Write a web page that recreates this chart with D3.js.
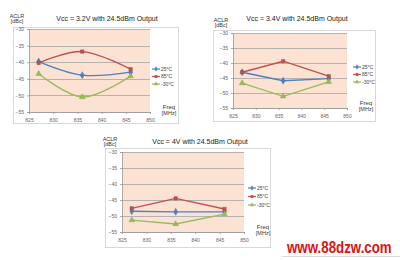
<!DOCTYPE html>
<html><head><meta charset="utf-8">
<script src="https://cdn.jsdelivr.net/npm/d3@7"></script>
<style>body{margin:0;background:#fff}svg{display:block}</style>
</head><body>
<svg id="c" width="400" height="261"></svg>
<script>
const freqs = [827, 836, 846];
const xTicks = [825, 830, 835, 840, 845, 850];
const yTicks = [-30, -35, -40, -45, -50, -55];
const seriesNames = ["25°C", "85°C", "-30°C"];
const titles = ["Vcc = 3.2V with 24.5dBm Output", "Vcc = 3.4V with 24.5dBm Output", "Vcc = 4V with 24.5dBm Output"];
const c1_25 = [-39.8, -43.9, -43.0];
const c1_85 = [-40.2, -36.8, -42.1];
const c1_m30 = [-43.5, -50.5, -44.2];
const c2_25 = [-43.1, -45.9, -45.2];
const c2_85 = [-43.1, -39.4, -44.4];
const c2_m30 = [-46.7, -51.1, -46.3];
const c3_25 = [-48.5, -48.7, -48.7];
const c3_85 = [-47.6, -44.5, -47.8];
const c3_m30 = [-51.3, -52.5, -49.4];

const colors = ["#4f81bd", "#c0504d", "#9bbb59"];
const symbols = [d3.symbolDiamond, d3.symbolSquare, d3.symbolTriangle];
const svg = d3.select("#c");
const font = "Arial, 'Liberation Sans', sans-serif";

const charts = [
  {frame:[13,27,178,123], plot:[29,29,150,112], title:[107,21], data:[c1_25,c1_85,c1_m30], curve:d3.curveCatmullRom, leg:[152,69], legStep:7.5},
  {frame:[213,30,375,121], plot:[233,33,347,108], title:[297,21], data:[c2_25,c2_85,c2_m30], curve:d3.curveLinear, leg:[353,67], legStep:7.5},
  {frame:[105,148,270,247], plot:[122,152,244,232], title:[200,144], data:[c3_25,c3_85,c3_m30], curve:d3.curveLinear, leg:[248,188], legStep:8.5}
];

charts.forEach((ch, ci) => {
  const [px0, py0, px1, py1] = ch.plot;
  const [fx0, fy0, fx1, fy1] = ch.frame;
  const g = svg.append("g");
  g.append("rect").attr("x", fx0+0.5).attr("y", fy0+0.5).attr("width", fx1-fx0).attr("height", fy1-fy0)
    .attr("fill", "#fff").attr("stroke", "#d9d9d9").attr("stroke-width", 1);
  const x = d3.scaleLinear().domain([825, 850]).range([px0, px1]);
  const y = d3.scaleLinear().domain([-55, -30]).range([py1, py0]);
  g.append("rect").attr("x", px0).attr("y", py0).attr("width", px1-px0).attr("height", py1-py0).attr("fill", "#fbe2d3");
  g.selectAll(".gl").data(yTicks).join("line")
    .attr("x1", px0).attr("x2", px1).attr("y1", d => Math.round(y(d))+0.5).attr("y2", d => Math.round(y(d))+0.5)
    .attr("stroke", "#a6a6a6").attr("stroke-width", 0.8);
  const yAxis = d3.axisLeft(y).tickValues(yTicks).tickSize(2).tickFormat(d3.format("d"));
  const xAxis = d3.axisBottom(x).tickValues(xTicks).tickSize(2).tickFormat(d3.format("d"));
  const ya = g.append("g").attr("transform", `translate(${px0},0)`).call(yAxis);
  const xa = g.append("g").attr("transform", `translate(0,${py1})`).call(xAxis);
  [ya, xa].forEach(a => {
    a.select(".domain").attr("stroke", "#999").attr("stroke-width", 0.8);
    a.selectAll(".tick line").attr("stroke", "#999").attr("stroke-width", 0.8);
    a.selectAll("text").attr("font-family", font).attr("font-size", 5).attr("fill", "#666");
  });
  xa.selectAll("text").attr("dy", "0.9em");
  g.append("text").attr("x", px0-12).attr("y", py0-11).attr("text-anchor", "middle").attr("font-family", font).attr("font-size", 5.5).attr("fill", "#333").text("ACLR");
  g.append("text").attr("x", px0-12).attr("y", py0-6).attr("text-anchor", "middle").attr("font-family", font).attr("font-size", 5.5).attr("fill", "#333").text("[dBc]");
  g.append("text").attr("x", px1+19).attr("y", py1-3).attr("text-anchor", "middle").attr("font-family", font).attr("font-size", 6).attr("fill", "#333").text("Freq");
  g.append("text").attr("x", px1+19).attr("y", py1+3).attr("text-anchor", "middle").attr("font-family", font).attr("font-size", 5.5).attr("fill", "#333").text("[MHz]");
  g.append("text").attr("x", ch.title[0]).attr("y", ch.title[1]).attr("text-anchor", "middle").attr("font-family", font).attr("font-size", 7).attr("fill", "#222").text(titles[ci]);
  ch.data.forEach((vals, si) => {
    const pts = freqs.map((f, i) => [f, vals[i]]);
    const line = d3.line().x(d => x(d[0])).y(d => y(d[1])).curve(ch.curve);
    g.append("path").attr("d", line(pts)).attr("fill", "none").attr("stroke", colors[si]).attr("stroke-width", 1.4);
    g.selectAll(".m"+si).data(pts).join("path")
      .attr("transform", d => `translate(${x(d[0])},${y(d[1])})`)
      .attr("d", d3.symbol().type(symbols[si]).size(si===1?12:14))
      .attr("fill", colors[si]).attr("stroke", d3.color(colors[si]).darker(0.5)).attr("stroke-width", 0.4);
    const ly = ch.leg[1] + si*ch.legStep;
    const lx = ch.leg[0];
    g.append("line").attr("x1", lx).attr("x2", lx+8).attr("y1", ly).attr("y2", ly).attr("stroke", colors[si]).attr("stroke-width", 1.2);
    g.append("path").attr("transform", `translate(${lx+4},${ly})`).attr("d", d3.symbol().type(symbols[si]).size(8)).attr("fill", colors[si]);
    g.append("text").attr("x", lx+9).attr("y", ly+1.8).attr("font-family", font).attr("font-size", 5).attr("fill", "#444").text(seriesNames[si]);
  });
});

svg.append("text").attr("transform", "translate(287,253) scale(1,1.2)")
  .attr("font-family", font).attr("font-weight", "bold").attr("font-size", 13.3)
  .attr("fill", "#e01010").text("www.88dzw.com");
svg.append("line").attr("x1", 282).attr("x2", 400).attr("y1", 256.5).attr("y2", 256.5).attr("stroke", "#ddd").attr("stroke-width", 1);
</script>
</body></html>
